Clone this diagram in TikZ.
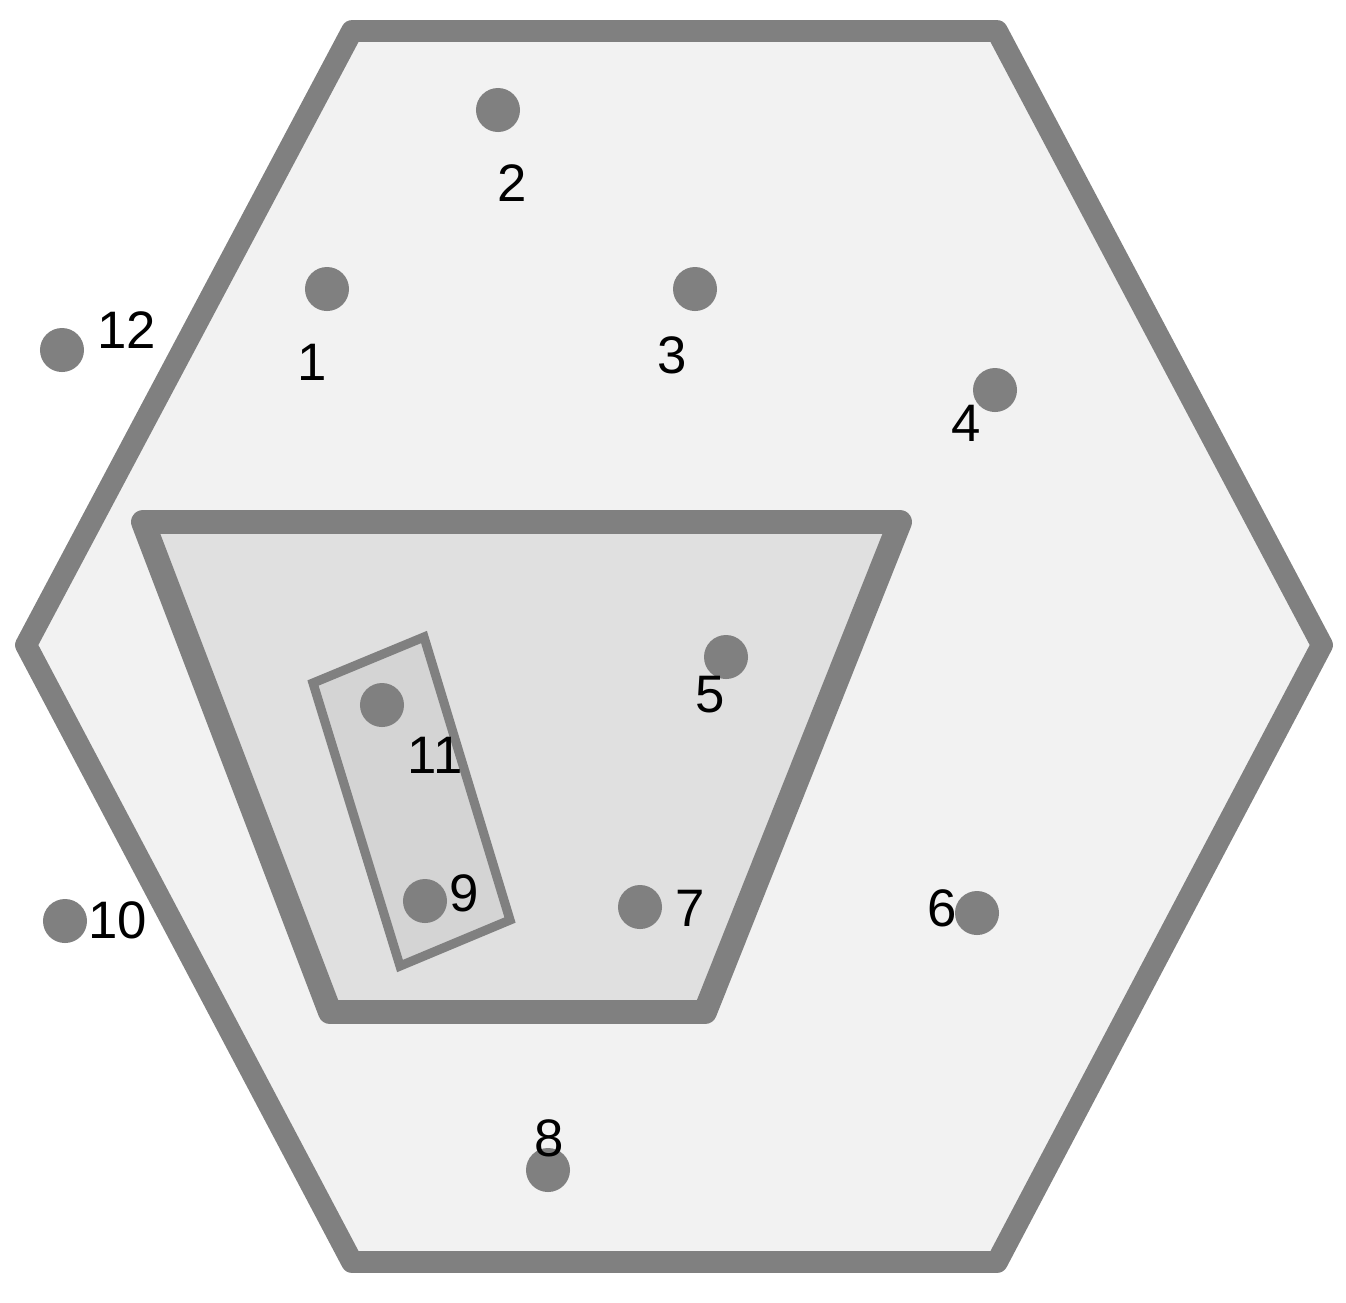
\documentclass[tikz,border=0pt]{standalone}
\usepackage{fontspec}
\setmainfont{Liberation Sans}
\usepackage{tikz}
\usetikzlibrary{positioning}

\definecolor{linegray}{HTML}{808080}
\definecolor{outerfill}{HTML}{F2F2F2}
\definecolor{midfill}{HTML}{E0E0E0}
\definecolor{innerfill}{HTML}{D4D4D4}

\begin{document}
\begin{tikzpicture}
        [
        x=0.01cm, y=-0.01cm,
        wall/.style={draw=linegray, line width=6.2pt, line join=round},
        thinwall/.style={draw=linegray, line width=2.6pt, line join=miter},
        dot/.style={circle, fill=linegray, inner sep=0pt, minimum size=0.44cm},
        num/.style={font=\fontsize{15}{18}\selectfont, inner sep=0pt}
        ]

        \useasboundingbox (0,0) rectangle (1346,1302);

        % Regions
        \draw [wall, fill=outerfill] (352,31) -- (997,31) -- (1322,645)
            -- (997,1262) -- (352,1262) -- (26,645) -- cycle;
        \draw [wall, line width=6.8pt, fill=midfill] (143,522) -- (900,522)
            -- (705,1012) -- (330,1012) -- cycle;
        \draw [thinwall, fill=innerfill] (313,683) -- (424,637) -- (510,920)
            -- (400,966) -- cycle;

        % Points and their numbers
        \foreach \n/\px/\py/\lx/\ly in {
            1/327/289/312/362, 2/498/110/512/183, 3/695/289/672/355,
            4/995/390/966/423, 5/726/657/710/695, 6/977/913/942/908,
            7/640/907/690/908, 8/548/1170/549/1138, 9/425/901/464/893,
            10/65/921/118/920, 11/382/705/435/755, 12/62/350/127/330}
        {
            \node [dot] (p\n) at (\px,\py) {};
            \node [num] (n\n) at (\lx,\ly) {\n};
        }

    \end{tikzpicture}
\end{document}
